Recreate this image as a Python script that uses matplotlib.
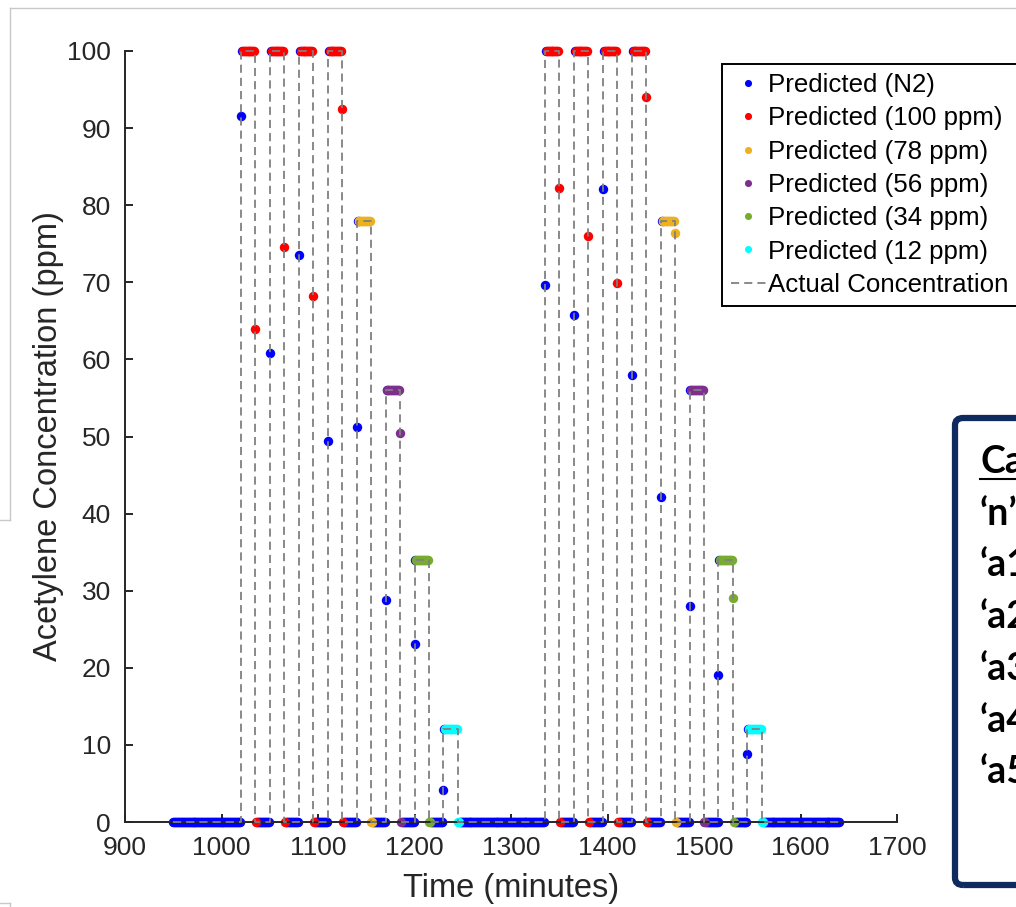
import matplotlib.pyplot as plt
from matplotlib.lines import Line2D
from matplotlib.patches import FancyBboxPatch
import numpy as np

plt.rcParams['font.family'] = ['Liberation Sans', 'DejaVu Sans']

# exposure schedule (minutes, ppm)
on_times = [1020, 1050, 1080, 1110, 1140, 1170, 1200, 1230,
            1335, 1365, 1395, 1425, 1455, 1485, 1515, 1545]
levels = [100, 100, 100, 100, 78, 56, 34, 12,
          100, 100, 100, 100, 78, 56, 34, 12]
step_len = 15
t_start, t_end = 950, 1640
# readings that fall on the rising / falling edges (nan = none seen)
rise_vals = [91.6, 60.8, 73.5, 49.4, 51.2, 28.8, 23.1, 4.1,
             69.7, 65.8, 82.1, 58.0, 42.2, 28.0, 19.1, 8.8]
fall_vals = [64.0, 74.6, 68.2, 92.5, np.nan, 50.5, np.nan, np.nan,
             82.2, 76.0, 69.9, 94.0, 76.4, np.nan, 29.1, np.nan]

class_names = ['Predicted (N2)', 'Predicted (100 ppm)', 'Predicted (78 ppm)',
               'Predicted (56 ppm)', 'Predicted (34 ppm)', 'Predicted (12 ppm)']
class_levels = [0, 100, 78, 56, 34, 12]
colors = ['#0000ff', '#ff0000', '#edb120', '#7e2f8e', '#77ac30', '#00ffff']

# build the sampled points (1 sample / minute)
pts = []
base0, prev_c = t_start, 0
for T, L, rv, fv in zip(on_times, levels, rise_vals, fall_vals):
    c = class_levels.index(L)
    for s in range(base0, T):
        pts.append((s, 0, prev_c if s == base0 else 0))
    pts.append((T, rv, 0))
    pts.append((T + 1, L, 0))
    for s in range(T + 2, T + step_len):
        pts.append((s, L, c))
    pts.append((T + step_len, 0 if np.isnan(fv) else fv, c))
    base0, prev_c = T + step_len + 1, c
for s in range(base0, t_end + 1):
    pts.append((s, 0, prev_c if s == base0 else 0))
pts = np.array(pts)

# actual concentration step line
ax_t, ax_v = [t_start], [0]
for T, L in zip(on_times, levels):
    ax_t += [T, T, T + step_len, T + step_len]
    ax_v += [0, L, L, 0]
ax_t.append(t_end)
ax_v.append(0)

fig = plt.figure(figsize=(10.16, 9.07), dpi=100)
ax = fig.add_axes([125 / 1016, 85 / 907, 772 / 1016, 771 / 907])

for k in range(len(class_names)):
    m = pts[:, 2] == k
    ax.plot(pts[m, 0], pts[m, 1], 'o', color=colors[k], ms=6.8, mew=0,
            label=class_names[k], clip_on=False, zorder=2)
ax.plot(ax_t, ax_v, '--', color='#808080', lw=1.3, dashes=(4.5, 2.8),
        label='Actual Concentration', clip_on=False, zorder=3)

ax.set_xlim(900, 1700)
ax.set_ylim(0, 100)
ax.set_xticks(np.arange(900, 1701, 100))
ax.set_yticks(np.arange(0, 101, 10))
for side in ['top', 'right']:
    ax.spines[side].set_visible(False)
for side in ['left', 'bottom']:
    ax.spines[side].set_color('#262626')
    ax.spines[side].set_linewidth(1.4)
ax.tick_params(direction='in', length=6, width=1.4, labelsize=19,
               colors='#262626', pad=10)
ax.set_xlabel('Time (minutes)', fontsize=23.5, color='#262626', va='center')
ax.set_ylabel('Acetylene Concentration (ppm)', fontsize=23.5, color='#262626',
              va='center')
ax.xaxis.set_label_coords(0.5, -0.086)
ax.yaxis.set_label_coords(-0.099, 0.5)

leg = ax.legend(loc='upper left', bbox_to_anchor=(722 / 1016, 1 - 64 / 907),
                bbox_transform=fig.transFigure, borderaxespad=0, fontsize=18.6,
                fancybox=False, edgecolor='black', framealpha=1,
                handlelength=1.35, handletextpad=0.08, labelspacing=0.36,
                borderpad=0.35, markerscale=0.75)
leg.get_frame().set_linewidth(1.4)

# cropped slide box on the right
box = FancyBboxPatch((955 / 1016, 1 - 885 / 907), 0.2, (885 - 418) / 907,
                     boxstyle='round,pad=0,rounding_size=0.008',
                     transform=fig.transFigure, fill=False,
                     edgecolor='#0f2a5e', lw=4.5, clip_on=False)
fig.add_artist(box)
box_lines = ['Ca', '\u2018n\u2019', '\u2018a1', '\u2018a2', '\u2018a3', '\u2018a4', '\u2018a5']
for i, s in enumerate(box_lines):
    fig.text(980 / 1016, 1 - (462 + i * 51.7) / 907, s, fontsize=27,
             fontweight='bold', family=['Lato', 'DejaVu Sans'], va='center',
             color='black')
fig.add_artist(Line2D([980 / 1016, 1], [1 - 479 / 907] * 2,
                      transform=fig.transFigure, color='black', lw=1.5))

# faint slide-frame edges
fc = '#c8c8c8'
fig.add_artist(Line2D([10 / 1016, 1], [1 - 8 / 907] * 2, transform=fig.transFigure, color=fc, lw=1))
fig.add_artist(Line2D([10 / 1016] * 2, [1 - 8 / 907, 1 - 520 / 907], transform=fig.transFigure, color=fc, lw=1))
fig.add_artist(Line2D([0, 10 / 1016], [1 - 520 / 907] * 2, transform=fig.transFigure, color=fc, lw=1))
fig.add_artist(Line2D([0, 10 / 1016], [1 - 903 / 907] * 2, transform=fig.transFigure, color=fc, lw=1))
fig.add_artist(Line2D([10 / 1016] * 2, [1 - 903 / 907, 0], transform=fig.transFigure, color=fc, lw=1))

fig.savefig('out.png', dpi=100)
